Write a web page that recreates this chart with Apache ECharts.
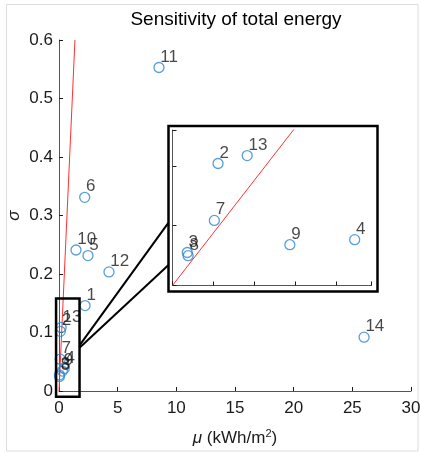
<!DOCTYPE html>
<html>
<head>
<meta charset="utf-8">
<script src="https://cdn.jsdelivr.net/npm/echarts@6/dist/echarts.min.js"></script>
<style>
html, body { margin: 0; padding: 0; background: #fff; }
#chart { width: 421px; height: 452px; }
</style>
</head>
<body>
<div id="chart"></div>
<script>
// point ids and their values (mu, sigma)
const pointLabels = ['1', '2', '3', '4', '5', '6', '7', '8', '9', '10', '11', '12', '13', '14'];
const mu = [2.22, 0.111, 0.036, 0.444, 2.47, 2.19, 0.102, 0.038, 0.286, 1.45, 8.52, 4.26, 0.182, 26.0];
const sigma = [0.146, 0.102, 0.0276, 0.0383, 0.2315, 0.331, 0.0544, 0.0249, 0.0341, 0.241, 0.553, 0.2036, 0.1086, 0.092];

// red reference line
const refMu = [0, 1.36];
const refSigma = [0, 0.6];

// zoomed region shown in the inset
const zoomMu = [-0.25, 1.75];
const zoomSigma = [-0.01, 0.158];
const connectorSigma = [0.078, 0.074];

const font = 'Liberation Sans, Arial, sans-serif';
const blue = '#2e86d0';
const ink = '#1a1a1a';

const allPoints = pointLabels.map((id, i) => [mu[i], sigma[i], id]);
const insetPoints = allPoints.filter(p => p[0] <= zoomMu[1] && p[1] <= zoomSigma[1]);
const refLine = refMu.map((m, i) => [m, refSigma[i]]);

// inset box, in pixels
const box = { x: 168.5, y: 126, w: 209, h: 165.5 };

function scatter(data, xi, yi, z) {
  return {
    type: 'scatter', xAxisIndex: xi, yAxisIndex: yi, z: z,
    data: data, symbol: 'circle', symbolSize: 10,
    itemStyle: { color: 'rgba(0,0,0,0)', borderColor: blue, borderWidth: 1.3 },
    label: {
      show: true, position: [7, -5], align: 'left', verticalAlign: 'middle',
      formatter: p => p.data[2], fontSize: 17, color: ink, fontFamily: font
    },
    emphasis: { disabled: true }
  };
}

function axisBase(extra) {
  return Object.assign({
    type: 'value',
    splitLine: { show: false },
    axisLine: { show: true, lineStyle: { color: '#555', width: 1 } },
    axisTick: { show: true, inside: true, length: 4, lineStyle: { color: ink } },
    axisLabel: { color: ink, fontSize: 17, fontFamily: font, hideOverlap: false }
  }, extra);
}

const chart = echarts.init(document.getElementById('chart'));
chart.setOption({
  animation: false,
  grid: [
    { left: 59, top: 40, right: 10, bottom: 61, outerBoundsMode: 'none' },
    { left: 172.5, top: 130, right: 49.5, bottom: 166.5, outerBoundsMode: 'none', z: 30 }
  ],
  xAxis: [
    axisBase({
      gridIndex: 0, min: 0, max: 30, interval: 5,
      axisLabel: { color: ink, fontSize: 17, fontFamily: font, margin: 9 },
      name: '{it|μ} (kWh/m{sup|2})', nameLocation: 'middle', nameGap: 37, nameMoveOverlap: false,
      nameTextStyle: {
        color: ink, fontSize: 17, fontFamily: font,
        rich: {
          it: { fontStyle: 'italic', fontSize: 17, fontFamily: font, color: ink },
          sup: { fontSize: 11, verticalAlign: 'top', fontFamily: font, color: ink, padding: [0, 0, 10, 0] }
        }
      }
    }),
    axisBase({
      gridIndex: 1, min: 0, max: 0.485, interval: 0.1, z: 30,
      axisLabel: { show: false }
    })
  ],
  yAxis: [
    axisBase({
      gridIndex: 0, min: 0, max: 0.6, interval: 0.1,
      axisLabel: { color: ink, fontSize: 17, fontFamily: font, margin: 6 },
      name: 'σ', nameLocation: 'middle', nameGap: 36, nameMoveOverlap: false,
      nameTextStyle: { color: ink, fontSize: 17, fontStyle: 'italic', fontFamily: font }
    }),
    axisBase({
      gridIndex: 1, min: 0, max: 0.13, interval: 0.05, z: 30,
      axisLabel: { show: false }
    })
  ],
  graphic: [
    {
      type: 'rect', z: 0, silent: true,
      shape: { x: 6.5, y: 4.5, width: 411.5, height: 446.5 },
      style: { fill: null, stroke: '#dcdcdc', lineWidth: 1 }
    },
    {
      type: 'text', z: 1, silent: true, x: 236, y: 10,
      style: { text: 'Sensitivity of total energy', font: '19px ' + font, fill: '#000', textAlign: 'center', textVerticalAlign: 'top' }
    },
    {
      type: 'rect', z: 20, silent: true,
      shape: { x: box.x, y: box.y, width: box.w, height: box.h },
      style: { fill: '#fff', stroke: '#000', lineWidth: 2.5 }
    }
  ],
  series: [
    {
      type: 'line', xAxisIndex: 0, yAxisIndex: 0, data: refLine, symbol: 'none', clip: true,
      lineStyle: { color: '#ff3030', width: 1 }, z: 2, silent: true
    },
    scatter(allPoints, 0, 0, 3),
    {
      type: 'custom', xAxisIndex: 0, yAxisIndex: 0, clip: false, silent: true, z: 5,
      data: [[zoomMu[0], zoomSigma[0], zoomMu[1], zoomSigma[1]]],
      renderItem: function (params, api) {
        const p0 = api.coord([api.value(0), api.value(3)]);
        const p1 = api.coord([api.value(2), api.value(1)]);
        const c0 = api.coord([zoomMu[1], connectorSigma[0]]);
        const c1 = api.coord([zoomMu[1], connectorSigma[1]]);
        const ls = { stroke: '#000', lineWidth: 2, fill: null };
        return {
          type: 'group',
          children: [
            { type: 'rect', shape: { x: p0[0], y: p0[1], width: p1[0] - p0[0], height: p1[1] - p0[1] },
              style: { stroke: '#000', lineWidth: 2.5, fill: null } },
            { type: 'line', shape: { x1: c0[0], y1: c0[1], x2: box.x, y2: 222.7 }, style: ls },
            { type: 'line', shape: { x1: c1[0], y1: c1[1], x2: box.x, y2: 265 }, style: ls }
          ]
        };
      }
    },
    {
      type: 'line', xAxisIndex: 1, yAxisIndex: 1, data: refLine, symbol: 'none', clip: true,
      lineStyle: { color: '#ff3030', width: 1 }, z: 31, silent: true
    },
    scatter(insetPoints, 1, 1, 32)
  ]
});
</script>
</body>
</html>
